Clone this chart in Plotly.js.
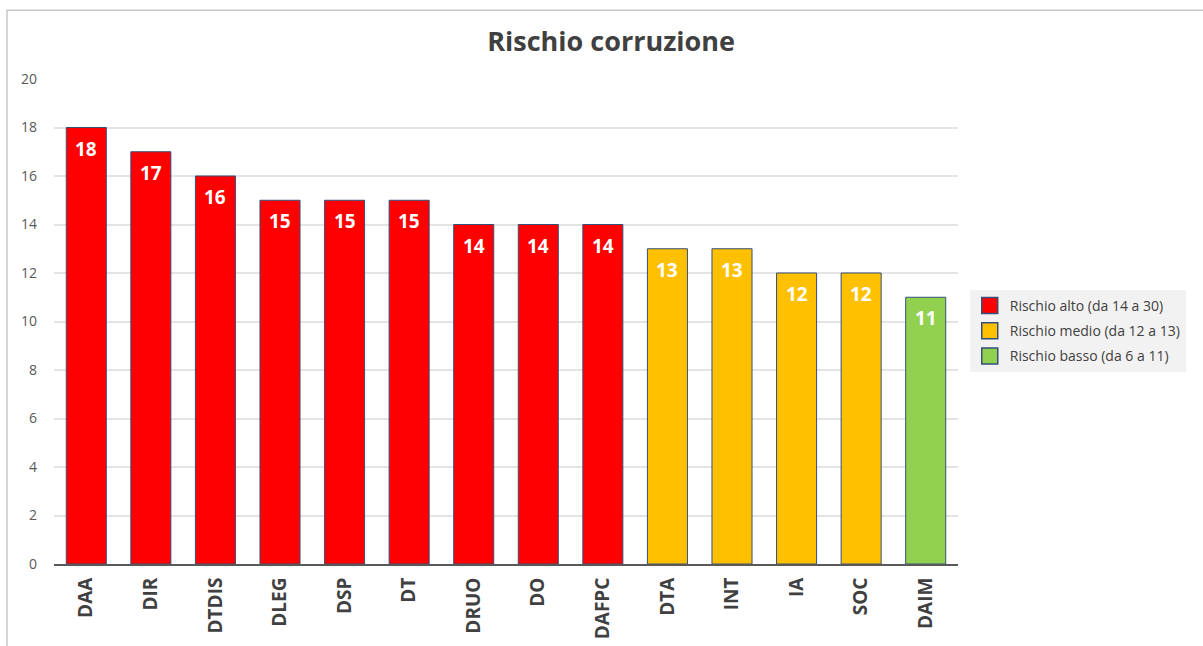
<!DOCTYPE html>
<html>
<head>
<meta charset="utf-8">
<script src="https://cdn.plot.ly/plotly-3.0.1.min.js"></script>
<style>
html,body{margin:0;padding:0;background:#fff;}
#chart{width:1203px;height:646px;}
</style>
</head>
<body>
<div id="chart"></div>
<script>
const categories = ["DAA","DIR","DTDIS","DLEG","DSP","DT","DRUO","DO","DAFPC","DTA","INT","IA","SOC","DAIM"];
const values = [18,17,16,15,15,15,14,14,14,13,13,12,12,11];
const levels = ["alto","alto","alto","alto","alto","alto","alto","alto","alto","medio","medio","medio","medio","basso"];
const levelNames = {alto:"Rischio alto (da 14 a 30)", medio:"Rischio medio (da 12 a 13)", basso:"Rischio basso (da 6 a 11)"};
const levelColors = {alto:"#ff0000", medio:"#ffc000", basso:"#92d050"};
const levelOrder = ["alto","medio","basso"];
const outline = "#34507a";

const barTraces = levelOrder.map(lv => {
  const xs = [], ys = [];
  categories.forEach((c,i) => { if (levels[i] === lv) { xs.push(c); ys.push(values[i]); } });
  return {
    type: "bar",
    name: levelNames[lv],
    x: xs, y: ys,
    showlegend: false,
    marker: {color: levelColors[lv], line: {color: outline, width: 1}},
    hoverinfo: "x+y"
  };
});

// legend-only entries (no drawn points) with larger square swatches
const legendTraces = levelOrder.map(lv => ({
  type: "scatter", mode: "markers", name: levelNames[lv], legendgroup: lv,
  x: [categories[0]], y: [null],
  marker: {symbol: "square", size: 20, color: levelColors[lv], line: {color: outline, width: 1.5}},
  hoverinfo: "skip"
}));

const annotations = categories.map((c,i) => ({
  x: c, y: values[i], xref: "x", yref: "y",
  text: String(values[i]), showarrow: false,
  yanchor: "middle", yshift: -21,
  font: {family: "Open Sans", size: 19, color: "#ffffff", weight: "bold"}
}));

const layout = {
  width: 1203, height: 646,
  paper_bgcolor: "#ffffff", plot_bgcolor: "#ffffff",
  font: {family: "Open Sans", color: "#595959"},
  margin: {l: 54, r: 245, t: 79, b: 82, pad: 0},
  title: {text: "Rischio corruzione", x: 0.508, xanchor: "center", y: 0.936, yanchor: "middle",
          font: {family: "Open Sans", size: 27, color: "#404040", weight: "bold"}},
  barmode: "relative",
  bargap: 0.38,
  showlegend: true,
  legend: {x: 1.013, xanchor: "left", y: 0.565, yanchor: "top", bgcolor: "#f2f2f2",
           font: {family: "Open Sans", size: 14, color: "#404040"}, traceorder: "grouped",
           itemwidth: 30, tracegroupgap: 4},
  xaxis: {type: "category", categoryorder: "array", categoryarray: categories,
          range: [-0.5, categories.length - 0.5], autorange: false,
          tickangle: -90, tickfont: {family: "Open Sans", size: 19, color: "#404040", weight: "bold"},
          showgrid: false, showline: true, linecolor: "#595959", linewidth: 2, ticks: "", ticklen: 0,
          ticklabelstandoff: 4},
  yaxis: {range: [0, 20], autorange: false, dtick: 2, tickfont: {family: "Open Sans", size: 14, color: "#595959"},
          showgrid: true, gridcolor: "#e4e4e4", gridwidth: 1.5, zeroline: false, showline: false,
          ticks: "", ticklabelstandoff: 16},
  annotations: annotations,
  shapes: [{type: "rect", xref: "paper", yref: "paper", x0: -0.052, x1: 1.5, y0: -0.2, y1: 1.142,
            line: {color: "#c8c8c8", width: 1.5}, fillcolor: "rgba(0,0,0,0)", layer: "below"}]
};

Plotly.newPlot("chart", barTraces.concat(legendTraces), layout, {displayModeBar: false});
</script>
</body>
</html>
